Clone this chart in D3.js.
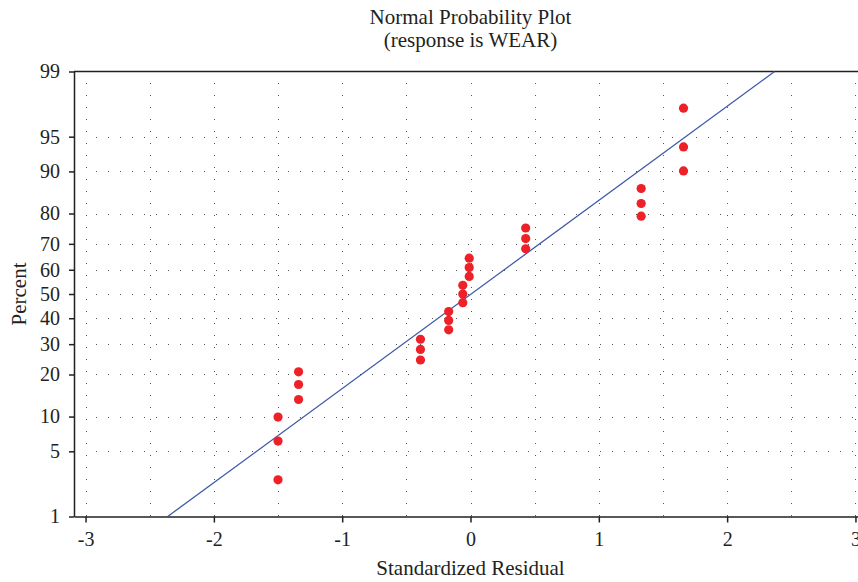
<!DOCTYPE html>
<html>
<head>
<meta charset="utf-8">
<script src="https://cdn.jsdelivr.net/npm/d3@7"></script>
<style>
  body { margin: 0; background: #fff; }
  svg { display: block; font-family: "Liberation Serif", serif; }
</style>
</head>
<body>
<script>
// standardized residuals and plotted percents
var residuals = [-1.50, -1.50, -1.50, -1.34, -1.34, -1.34, -0.39, -0.39, -0.39,
                 -0.17, -0.17, -0.17, -0.06, -0.06, -0.06, -0.01, -0.01, -0.01,
                 0.43, 0.43, 0.43, 1.33, 1.33, 1.33, 1.66, 1.66, 1.66];
var percents = [2.6, 6.2, 9.9, 13.5, 17.2, 20.8, 24.5, 28.1, 31.8,
                35.4, 39.1, 42.7, 46.4, 50.0, 53.6, 57.3, 60.9, 64.6,
                68.2, 71.9, 75.5, 79.2, 82.8, 86.5, 90.1, 93.8, 97.4];

// fitted line end points (residual, percent)
var fitX = [-2.36, 2.37];
var fitP = [1, 99];

var xTicks = [-3, -2, -1, 0, 1, 2, 3];
var xGrid = [-3, -2.5, -2, -1.5, -1, -0.5, 0, 0.5, 1, 1.5, 2, 2.5, 3];
var yTicks = [1, 5, 10, 20, 30, 40, 50, 60, 70, 80, 90, 95, 99];
var yGrid = [5, 10, 20, 30, 40, 50, 60, 70, 80, 90, 95];

// inverse normal cdf (Acklam)
function probit(p) {
  var a = [-3.969683028665376e+01, 2.209460984245205e+02, -2.759285104469687e+02,
           1.383577518672690e+02, -3.066479806614716e+01, 2.506628277459239e+00];
  var b = [-5.447609879822406e+01, 1.615858368580409e+02, -1.556989798598866e+02,
           6.680131188771972e+01, -1.328068155288572e+01];
  var c = [-7.784894002430293e-03, -3.223964580411365e-01, -2.400758277161838e+00,
           -2.549671743169250e+00, 4.374664141464968e+00, 2.938163982698783e+00];
  var d = [7.784695709041462e-03, 3.224671290700398e-01, 2.445134137142996e+00,
           3.754408661907416e+00];
  var pl = 0.02425, q, r;
  if (p < pl) {
    q = Math.sqrt(-2 * Math.log(p));
    return (((((c[0]*q+c[1])*q+c[2])*q+c[3])*q+c[4])*q+c[5]) / ((((d[0]*q+d[1])*q+d[2])*q+d[3])*q+1);
  }
  if (p > 1 - pl) {
    q = Math.sqrt(-2 * Math.log(1 - p));
    return -(((((c[0]*q+c[1])*q+c[2])*q+c[3])*q+c[4])*q+c[5]) / ((((d[0]*q+d[1])*q+d[2])*q+d[3])*q+1);
  }
  q = p - 0.5; r = q * q;
  return (((((a[0]*r+a[1])*r+a[2])*r+a[3])*r+a[4])*r+a[5])*q / (((((b[0]*r+b[1])*r+b[2])*r+b[3])*r+b[4])*r+1);
}

var width = 858,
    height = 582;

var svg = d3.select('body')
  .append('svg')
  .attr('width', width)
  .attr('height', height);

var x = d3.scaleLinear()
  .domain([-3.09, 3.09])
  .range([74, 867]);

var z = d3.scaleLinear()
  .domain([probit(0.01), probit(0.99)])
  .range([516.5, 71.5]);

function y(p) { return z(probit(p / 100)); }

var ink = '#231f20';

// dotted grid
var grid = svg.append('g').attr('id', 'grid')
  .attr('stroke', '#555')
  .attr('stroke-width', 1)
  .attr('stroke-dasharray', '1,11');

grid.selectAll('line.v')
  .data(xGrid)
  .enter()
  .append('line')
  .attr('class', 'v')
  .attr('x1', function(d) { return Math.round(x(d)) + 0.5; })
  .attr('x2', function(d) { return Math.round(x(d)) + 0.5; })
  .attr('y1', 83)
  .attr('y2', 516);

grid.selectAll('line.h')
  .data(yGrid)
  .enter()
  .append('line')
  .attr('class', 'h')
  .attr('x1', 96)
  .attr('x2', width)
  .attr('y1', function(d) { return Math.round(y(d)) + 0.5; })
  .attr('y2', function(d) { return Math.round(y(d)) + 0.5; });

// top border
svg.append('line')
  .attr('x1', 74).attr('x2', 867)
  .attr('y1', z.range()[1]).attr('y2', z.range()[1])
  .attr('stroke', ink)
  .attr('stroke-width', 1.5);

// axes
var yAxis = d3.axisLeft(z)
  .tickValues(yTicks.map(function(p) { return probit(p / 100); }))
  .tickFormat(function(d, i) { return yTicks[i]; })
  .tickSize(5)
  .tickSizeOuter(0)
  .tickPadding(9);

var xAxis = d3.axisBottom(x)
  .tickValues(xTicks)
  .tickFormat(function(d) { return String(d); })
  .tickSize(6)
  .tickSizeOuter(0)
  .tickPadding(9);

var gy = svg.append('g')
  .attr('transform', 'translate(74,0)')
  .call(yAxis);

var gx = svg.append('g')
  .attr('transform', 'translate(0,516.5)')
  .call(xAxis);

[gx, gy].forEach(function(g) {
  g.select('.domain').attr('stroke', ink).attr('stroke-width', 1.5);
  g.selectAll('.tick line').attr('stroke', ink).attr('stroke-width', 1.5);
  g.selectAll('.tick text')
    .attr('fill', ink)
    .style('font-family', '"Liberation Serif", serif')
    .style('font-size', '20px');
});

// fitted line
svg.append('line')
  .attr('x1', x(fitX[0])).attr('y1', y(fitP[0]))
  .attr('x2', x(fitX[1])).attr('y2', y(fitP[1]))
  .attr('stroke', '#3c5aa8')
  .attr('stroke-width', 1.3);

// points
svg.append('g').attr('id', 'points')
  .selectAll('circle')
  .data(residuals)
  .enter()
  .append('circle')
  .attr('cx', function(d) { return x(d); })
  .attr('cy', function(d, i) { return y(percents[i]); })
  .attr('r', 4.6)
  .attr('fill', '#ee2028');

// titles
svg.append('text')
  .attr('x', 470.5).attr('y', 23.5)
  .attr('text-anchor', 'middle')
  .attr('fill', ink)
  .style('font-size', '21px')
  .text('Normal Probability Plot');

svg.append('text')
  .attr('x', 470.5).attr('y', 46.5)
  .attr('text-anchor', 'middle')
  .attr('fill', ink)
  .style('font-size', '21px')
  .text('(response is WEAR)');

svg.append('text')
  .attr('x', 470.5).attr('y', 575)
  .attr('text-anchor', 'middle')
  .attr('fill', ink)
  .style('font-size', '21px')
  .text('Standardized Residual');

svg.append('text')
  .attr('transform', 'translate(25.5,294) rotate(-90)')
  .attr('text-anchor', 'middle')
  .attr('fill', ink)
  .style('font-size', '21px')
  .text('Percent');
</script>
</body>
</html>
